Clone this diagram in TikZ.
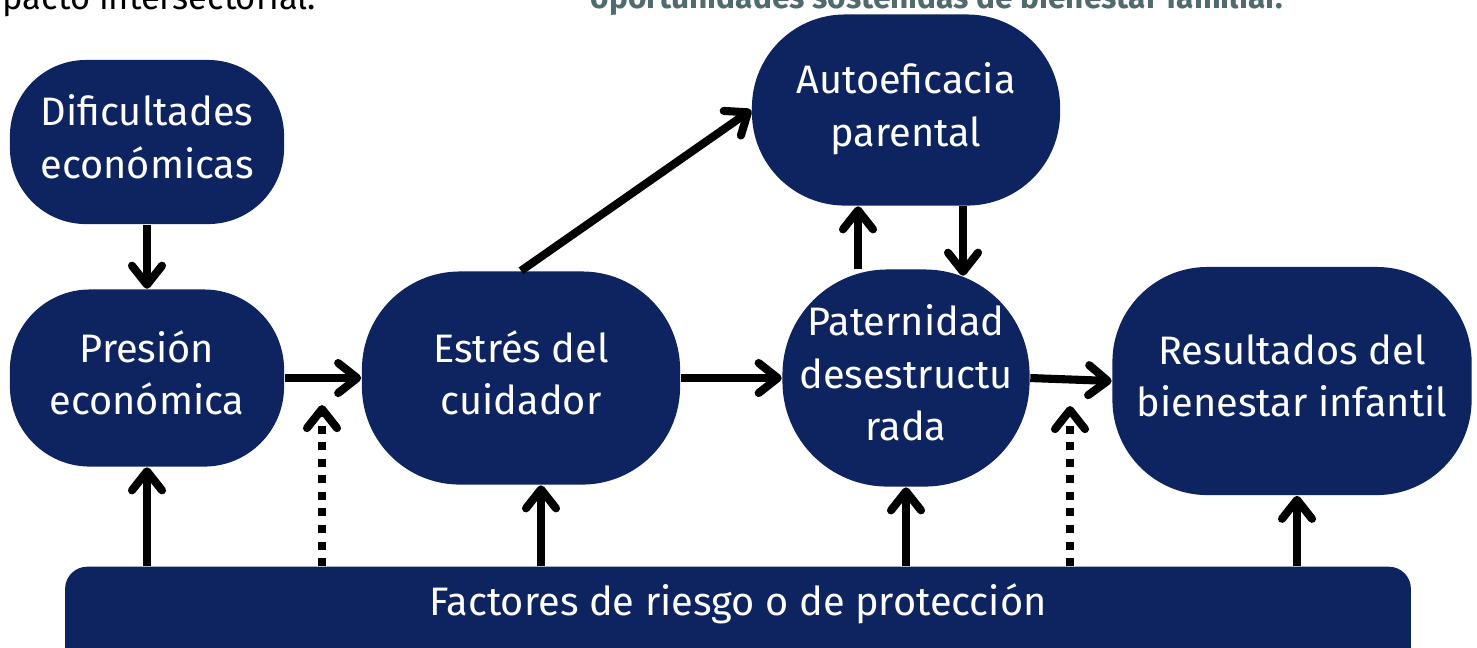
\documentclass[tikz,border=0pt]{standalone}
\usepackage{fontspec}
\setmainfont{Fira Sans}
\usetikzlibrary{arrows.meta,calc}
\definecolor{azulmarino}{RGB}{14,36,96}
\definecolor{grisverde}{RGB}{80,106,110}
\tikzset{
	caja/.style={fill=azulmarino, text=white, align=center, inner sep=0pt,
		font=\fontsize{11.3}{14.8}\selectfont, text depth=0.11cm},
	flecha/.style={line width=2.3pt,
		-{Straight Barb[length=0.19cm,width=0.3cm,line cap=round,line join=round]}},
	punteada/.style={flecha, dash pattern=on 0.08cm off 0.085cm}
}
\begin{document}
\begin{tikzpicture}[x=0.01cm, y=-0.01cm, line join=round]
			\useasboundingbox (0,0) rectangle (1477,647);
			\clip (0,0) rectangle (1477,647);
			
			% Textos recortados arriba
			\node[anchor=base west, inner sep=0pt, font=\fontsize{9.8}{11}\selectfont] (notaizq) at (2,9) {pacto intersectorial.};
			\node[anchor=base west, inner sep=0pt, text=grisverde, font=\bfseries\fontsize{9}{11}\selectfont] (notacen) at (590,8) {oportunidades sostenidas de bienestar familiar.};
			
			% Cajas
			\node[caja, minimum width=2.74cm, minimum height=1.64cm, rounded corners=0.76cm] (dif) at (147,142) {Dificultades\\económicas};
			\node[caja, minimum width=2.74cm, minimum height=1.77cm, rounded corners=0.8cm] (pres) at (147,378) {Presión\\económica};
			\node[caja, minimum width=3.18cm, minimum height=2.13cm, rounded corners=0.98cm] (estres) at (521,378) {Estrés del\\cuidador};
			\node[caja, minimum width=3.08cm, minimum height=1.91cm, rounded corners=0.93cm] (aut) at (906,110) {Autoeficacia\\parental};
			\node[caja, minimum width=2.47cm, minimum height=2.17cm, rounded corners=1.05cm] (pat) at (906,378) {Paternidad\\desestructu\\rada};
			\node[caja, minimum width=3.59cm, minimum height=2.28cm, rounded corners=0.95cm] (res) at (1292,381) {Resultados del\\bienestar infantil};
			\node[caja, minimum width=13.45cm, minimum height=1.3cm, rounded corners=0.22cm, anchor=north] (barra) at (738,566) {};
			\node[caja, fill=none, text depth=] (barratxt) at (738,604) {Factores de riesgo o de protección};
			
			% Flechas entre cajas
			\draw[flecha] (dif.south) -- (pres.north);
			\draw[flecha] (pres.east) -- (estres.west);
			\draw[flecha] (estres.east) -- (pat.west);
			\draw[flecha] (pat.east) -- (res.west);
			\draw[flecha] (estres.north) -- (aut.west);
			\draw[flecha] ($(pat.north)+(-48,0)$) -- ($(aut.south)+(-48,0)$);
			\draw[flecha] ($(aut.south)+(57,0)$) -- ($(pat.north)+(57,7)$);
			
			% Flechas desde la barra
			\foreach \n/\dx in {pres/0, estres/20, pat/0, res/5}
				\draw[flecha] ($(barra.north -| \n.south)+(\dx,0)$) -- ($(\n.south)+(\dx,0)$);
			\coordinate (p1) at (322,405);
			\coordinate (p2) at (1070,406);
			\foreach \c in {p1,p2}
				\draw[punteada] (barra.north -| \c) -- (\c);
\end{tikzpicture}
\end{document}
